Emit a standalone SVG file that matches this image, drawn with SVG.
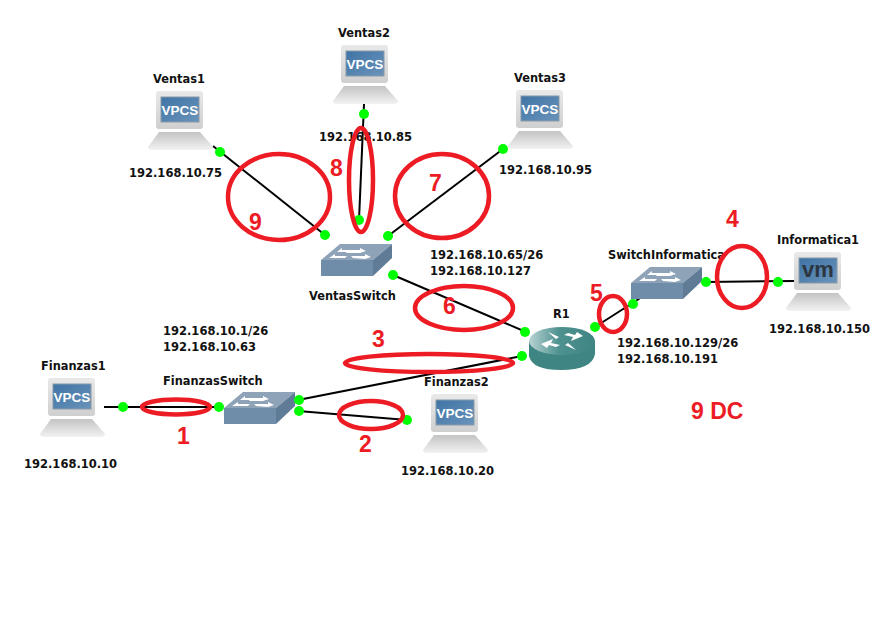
<svg xmlns="http://www.w3.org/2000/svg" width="893" height="634" viewBox="0 0 893 634">
<style>
.lb{font-family:"DejaVu Sans","Liberation Sans",sans-serif;font-size:11.400px;font-weight:700;fill:#111}
.ip{font-family:"DejaVu Sans","Liberation Sans",sans-serif;font-size:11.500px;font-weight:700;fill:#111}
.n{font-family:"Liberation Sans",sans-serif;font-size:23px;font-weight:700;fill:#ed1c24}
.scr{font-family:"Liberation Sans",sans-serif;font-size:13.500px;font-weight:700;fill:#fff;text-anchor:middle}
.vm{font-family:"Liberation Sans",sans-serif;font-size:22px;font-weight:700;fill:#2b3640;text-anchor:middle}
.l{stroke:#000;stroke-width:2;fill:none}
.d{fill:#0f0}
.r{fill:none;stroke:#ed1c24;stroke-width:4.500}
</style>
<defs>
<linearGradient id="m" x1="0" y1="0" x2="0" y2="1"><stop offset="0" stop-color="#e9e9e9"/><stop offset="1" stop-color="#cfcfcf"/></linearGradient>
<linearGradient id="b" x1="0" y1="0" x2="0" y2="1"><stop offset="0" stop-color="#c4c4c4"/><stop offset="1" stop-color="#f2f2f2"/></linearGradient>
<linearGradient id="s" x1="0" y1="0" x2="1" y2="1"><stop offset="0" stop-color="#3f74a6"/><stop offset="1" stop-color="#6a93ba"/></linearGradient>
<linearGradient id="rt" x1="0" y1="0" x2="1" y2="0"><stop offset="0" stop-color="#b9d3d3"/><stop offset=".45" stop-color="#4e9290"/><stop offset="1" stop-color="#3f8583"/></linearGradient>
<g id="pc">
<rect x="8" y="0" width="47" height="38" rx="3" fill="url(#m)"/>
<rect x="13" y="6" width="38" height="25" fill="url(#s)" stroke="#8a9aa8"/>
<path d="M11 41H52L65 56Q65 59 60 59H4Q0 59 0 56Z" fill="url(#b)"/>
</g>
<g id="sw">
<path d="M0 17L19 1H71L52 17Z" fill="#8ea3b8"/>
<path d="M0 17H52V33H0Z" fill="#6f8ca9"/>
<path d="M52 17L71 1V15L52 33Z" fill="#5f7b96"/>
<path d="M8 15L14 11V13H26L24 15ZM27 7H39V5L45 8L39 10H25ZM32 15L30 13H44V11L50 14L44 16ZM16 9L21 5V7H33L31 9Z" fill="#fff"/>
</g>
</defs>
<rect width="893" height="634" fill="#fff"/>
<g id="connectors">
<path class="l" d="M213 146L325 235"/>
<path class="l" d="M364 104L359 220"/>
<path class="l" d="M503 149L388 236"/>
<path class="l" d="M393 275L526 332"/>
<path class="l" d="M298 400L522 356"/>
<path class="l" d="M298 411L407 420"/>
<path class="l" d="M104 407H220"/>
<path class="l" d="M595 327L645 295"/>
<path class="l" d="M706 282L795 281"/>
</g>
<g id="Ventas1"><use href="#pc" x="148" y="91"/><text class="scr" x="180" y="115">VPCS</text><text class="lb" x="153" y="83">Ventas1</text><text class="ip" x="129" y="177">192.168.10.75</text></g>
<g id="Ventas2"><use href="#pc" x="333" y="45"/><text class="scr" x="365" y="69">VPCS</text><text class="lb" x="338" y="37">Ventas2</text><text class="ip" x="319" y="141">192.168.10.85</text></g>
<g id="Ventas3"><use href="#pc" x="508" y="90"/><text class="scr" x="540" y="114">VPCS</text><text class="lb" x="514" y="82">Ventas3</text><text class="ip" x="499" y="174">192.168.10.95</text></g>
<g id="VentasSwitch"><use href="#sw" x="321" y="243"/><text class="lb" x="309" y="300">VentasSwitch</text></g>
<g id="FinanzasSwitch"><use href="#sw" x="224" y="391"/><text class="lb" x="163" y="385">FinanzasSwitch</text></g>
<g id="SwitchInformatica"><use href="#sw" x="631" y="266"/><text class="lb" x="608" y="259">SwitchInformatica</text></g>
<g id="Finanzas1"><use href="#pc" x="40" y="378"/><text class="scr" x="72" y="402">VPCS</text><text class="lb" x="41" y="370">Finanzas1</text><text class="ip" x="24" y="468">192.168.10.10</text></g>
<g id="Finanzas2"><use href="#pc" x="423" y="394"/><text class="scr" x="455" y="418">VPCS</text><text class="lb" x="424" y="386">Finanzas2</text><text class="ip" x="401" y="475">192.168.10.20</text></g>
<g id="Informatica1"><use href="#pc" x="786" y="252"/><text class="vm" x="818" y="277">vm</text><text class="lb" x="777" y="244">Informatica1</text><text class="ip" x="769" y="333">192.168.10.150</text></g>
<g id="R1">
<path d="M529 341V356Q532 370 561 370Q592 370 595 354V341Z" fill="#3f8583"/>
<ellipse cx="562" cy="341" rx="33" ry="14" fill="url(#rt)"/>
<path d="M541 344L553 339L551 343L560 345L556 347L549 345L547 348ZM583 336L571 341L573 337L564 335L568 333L575 335L577 332ZM548 332L559 337L556 339ZM576 350L565 345L568 343Z" fill="#fff"/>
<text class="lb" x="553" y="318">R1</text>
</g>
<g id="addresses">
<text class="ip" x="163" y="335">192.168.10.1/26</text><text class="ip" x="163" y="351">192.168.10.63</text>
<text class="ip" x="430" y="259">192.168.10.65/26</text><text class="ip" x="430" y="275">192.168.10.127</text>
<text class="ip" x="617" y="347">192.168.10.129/26</text><text class="ip" x="617" y="363">192.168.10.191</text>
</g>
<g id="dots">
<circle class="d" cx="220" cy="152" r="5"/><circle class="d" cx="364" cy="114" r="5"/><circle class="d" cx="503" cy="149" r="5"/>
<circle class="d" cx="325" cy="235" r="5"/><circle class="d" cx="359" cy="220" r="5"/><circle class="d" cx="388" cy="236" r="5"/>
<circle class="d" cx="393" cy="275" r="5"/><circle class="d" cx="525" cy="332" r="5"/><circle class="d" cx="522" cy="356" r="5"/>
<circle class="d" cx="595" cy="327" r="5"/><circle class="d" cx="633" cy="304" r="5"/><circle class="d" cx="706" cy="282" r="5"/>
<circle class="d" cx="778" cy="282" r="5"/><circle class="d" cx="123" cy="407" r="5"/><circle class="d" cx="219" cy="407" r="5"/>
<circle class="d" cx="299" cy="400" r="5"/><circle class="d" cx="299" cy="411" r="5"/><circle class="d" cx="407" cy="420" r="5"/>
</g>
<g id="annotations">
<ellipse class="r" cx="279" cy="197" rx="51" ry="43"/>
<ellipse class="r" cx="361" cy="180" rx="12" ry="52"/>
<ellipse class="r" cx="442" cy="196" rx="47" ry="42"/>
<ellipse class="r" cx="464" cy="308" rx="49" ry="22"/>
<ellipse class="r" cx="429" cy="363" rx="84" ry="9"/>
<ellipse class="r" cx="176" cy="407" rx="34" ry="7.500"/>
<ellipse class="r" cx="371" cy="415" rx="32" ry="14"/>
<ellipse class="r" cx="613" cy="314" rx="14" ry="18"/>
<ellipse class="r" cx="742" cy="277" rx="25" ry="31"/>
<text class="n" x="249" y="230">9</text><text class="n" x="330" y="176">8</text><text class="n" x="429" y="191">7</text>
<text class="n" x="443" y="314">6</text><text class="n" x="372" y="347">3</text><text class="n" x="177" y="444">1</text>
<text class="n" x="359" y="452">2</text><text class="n" x="590" y="301">5</text><text class="n" x="726" y="227">4</text>
<text class="n" x="691" y="419">9 DC</text>
</g>
</svg>
